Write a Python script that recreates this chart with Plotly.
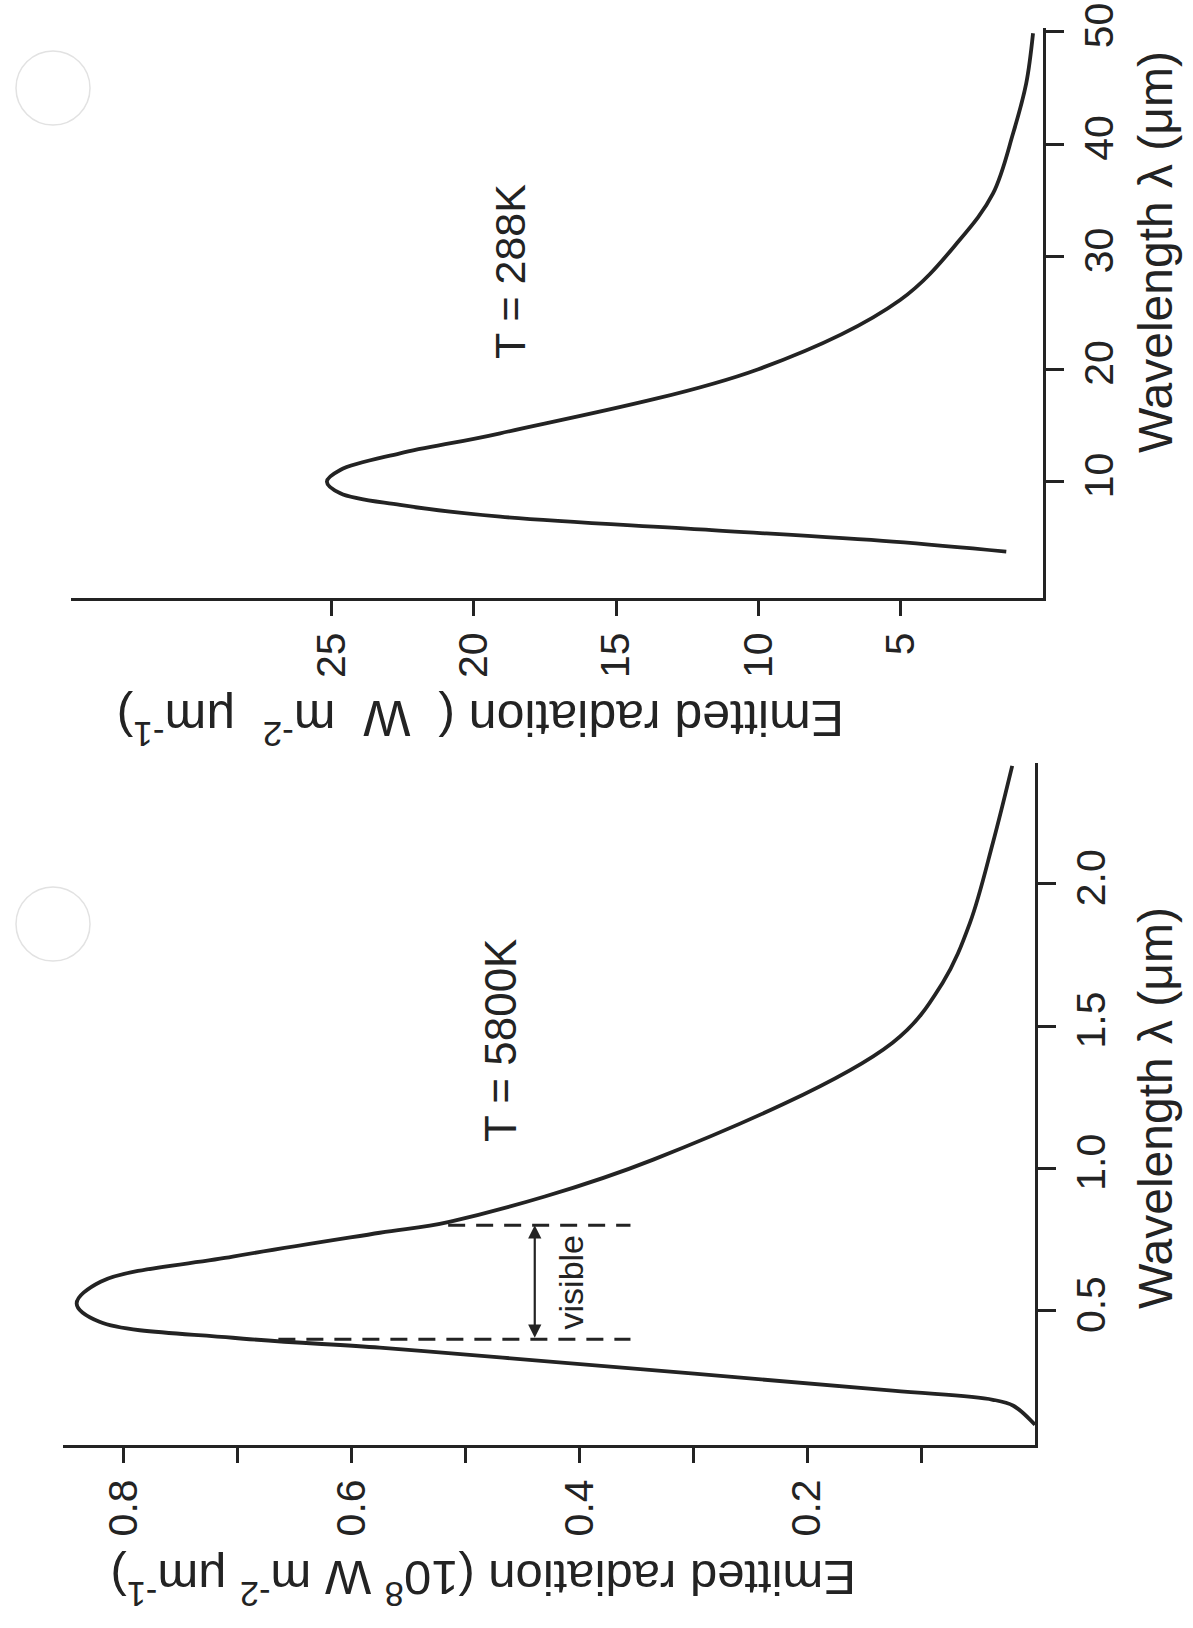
import plotly.graph_objects as go

W, H = 1193, 1628

# ---- 5800 K curve (wavelength in um, emission in 1e8 W m-2 um-1) ----
sun_wavelength = [0.099, 0.166, 0.187, 0.219, 0.335, 0.370, 0.405, 0.461,
                  0.525, 0.602, 0.690, 0.774, 0.813, 1.031, 1.442,
                  1.653, 1.864, 2.144, 2.415]
sun_emission = [0.000, 0.019, 0.037, 0.125, 0.467, 0.575, 0.704, 0.821,
                0.841, 0.820, 0.704, 0.575, 0.513, 0.335, 0.125,
                0.081, 0.057, 0.037, 0.020]

# ---- 288 K curve (wavelength in um, emission in W m-2 um-1) ----
earth_wavelength = [3.78, 4.67, 5.76, 6.89, 7.93, 8.97, 10.0, 11.04, 12.52, 14.30,
                    20.0, 26.15, 31.48, 35.6, 40.97, 45.4, 49.86]
earth_emission = [1.29, 5.27, 12.05, 19.07, 22.59, 24.69, 25.16, 24.69, 22.59, 19.07,
                  10.0, 5.02, 2.93, 1.76, 1.05, 0.59, 0.35]

sun_ticks = [0.5, 1.0, 1.5, 2.0]
sun_em_ticks = [0.2, 0.4, 0.6, 0.8]
sun_em_minor = [0.1, 0.3, 0.5, 0.7]
earth_ticks = [10, 20, 30, 40, 50]
earth_em_ticks = [5, 10, 15, 20, 25]
visible_band = [0.4, 0.8]

INK = "#232323"
FONT = "Liberation Sans, Arial, Helvetica, sans-serif"


def px(x):
    return x / W


def py(y):
    return 1 - y / H


fig = go.Figure()
fig.add_trace(go.Scatter(x=sun_emission, y=sun_wavelength, mode="lines",
                         line=dict(color=INK, width=3.8, shape="spline", smoothing=1.0),
                         xaxis="x", yaxis="y", showlegend=False, hoverinfo="skip"))
fig.add_trace(go.Scatter(x=earth_emission, y=earth_wavelength, mode="lines",
                         line=dict(color=INK, width=3.8, shape="spline", smoothing=1.0),
                         xaxis="x2", yaxis="y2", showlegend=False, hoverinfo="skip"))

em_axis = dict(showline=True, linecolor=INK, linewidth=3, ticks="outside", ticklen=15,
               tickwidth=2.5, tickcolor=INK, tickangle=-90, showgrid=False, zeroline=False,
               automargin=False, tickfont=dict(family=FONT, size=41, color=INK))
wl_axis = dict(showline=True, linecolor=INK, linewidth=3, ticks="outside", ticklen=18,
               tickwidth=2.5, tickcolor=INK, tickangle=-90, showgrid=False, zeroline=False,
               automargin=False, side="right", tickfont=dict(family=FONT, size=41, color=INK))

fig.update_layout(
    width=W, height=H, margin=dict(l=0, r=0, t=0, b=0, autoexpand=False),
    paper_bgcolor="white", plot_bgcolor="white",
    xaxis=dict(em_axis, domain=[px(63), px(1035)], range=[0.853, 0], anchor="y",
               tickvals=sun_em_ticks, ticktext=["0.2", "0.4", "0.6", "0.8"],
               minor=dict(tickvals=sun_em_minor, ticks="outside", ticklen=15,
                          tickwidth=2.5, tickcolor=INK)),
    yaxis=dict(wl_axis, domain=[py(1445), py(763)], range=[0.028, 2.425], anchor="x",
               tickvals=sun_ticks, ticktext=["0.5", "1.0", "1.5", "2.0"]),
    xaxis2=dict(em_axis, domain=[px(71), px(1043)], range=[34.15, 0], anchor="y2",
                tickvals=earth_em_ticks),
    yaxis2=dict(wl_axis, domain=[py(598), py(28)], range=[-0.34, 50.33], anchor="x2",
                tickvals=earth_ticks),
)

ann = []
# axis titles
ann.append(dict(text="Wavelength λ (μm)", x=px(1155), y=py(1108), textangle=-90, size=48))
ann.append(dict(text="Wavelength λ (μm)", x=px(1155), y=py(252), textangle=-90, size=48))
ann.append(dict(text="Emitted radiation (10<sup>8</sup> W m<sup>-2</sup> μm<sup>-1</sup>)",
                x=px(483), y=py(1582), textangle=180, size=49))
ann.append(dict(text="Emitted radiation (\u00a0 W\u00a0 m<sup>-2</sup>\u00a0 μm<sup>-1</sup>)",
                x=px(481), y=py(722), textangle=180, size=50))
# temperature labels
ann.append(dict(text="T = 5800K", x=px(500), y=py(1041), textangle=-90, size=44))
ann.append(dict(text="T = 288K", x=px(510), y=py(272), textangle=-90, size=43))
for a in ann:
    size = a.pop("size")
    a.update(xref="paper", yref="paper", showarrow=False,
             font=dict(family=FONT, size=size, color=INK), xanchor="center", yanchor="middle")

# visible band marker
ann.append(dict(text="visible", x=0.407, y=sum(visible_band) / 2, xref="x", yref="y",
                textangle=-90, showarrow=False,
                font=dict(family=FONT, size=34, color=INK)))
ann.append(dict(text="", x=0.439, y=visible_band[1], ax=0.439, ay=visible_band[0],
                xref="x", yref="y", axref="x", ayref="y", showarrow=True,
                arrowhead=2, arrowsize=1.2, arrowwidth=2.2, arrowcolor=INK,
                arrowside="end+start"))
fig.update_layout(annotations=ann)

shapes = []
for wl, start in zip(visible_band, [0.664, 0.515]):
    shapes.append(dict(type="line", xref="x", yref="y", x0=start, x1=0.355, y0=wl, y1=wl,
                       line=dict(color=INK, width=3, dash="17px,11px")))
# faint punch holes in the paper
for cx, cy in [(53, 88), (53, 924)]:
    shapes.append(dict(type="circle", xref="paper", yref="paper",
                       x0=px(cx - 37), x1=px(cx + 37), y0=py(cy + 37), y1=py(cy - 37),
                       line=dict(color="#e2e2e2", width=1.5)))
fig.update_layout(shapes=shapes)

fig.write_html("out.html")
